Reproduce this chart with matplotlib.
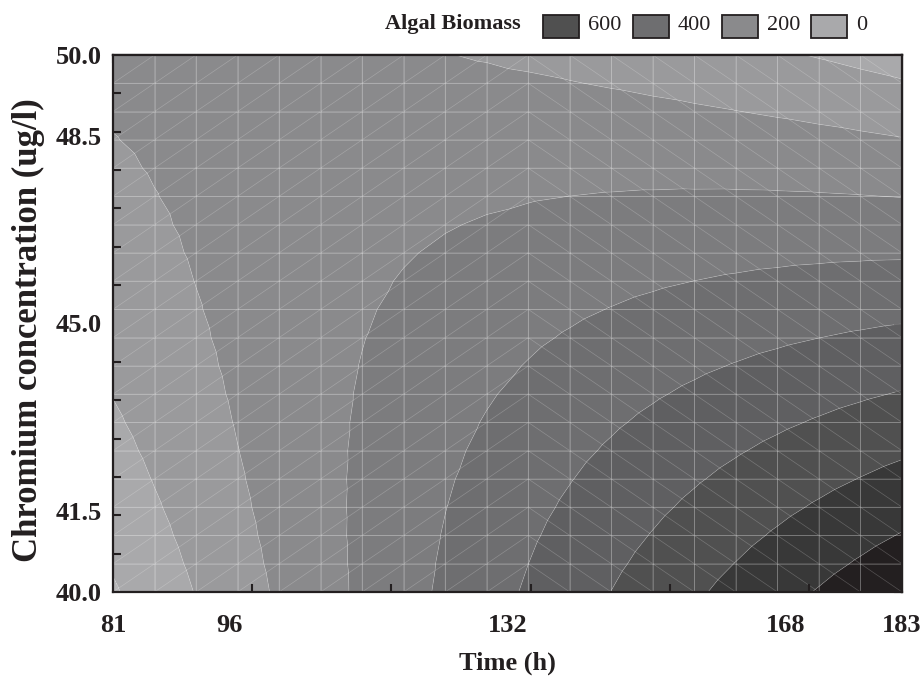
import numpy as np
import matplotlib.pyplot as plt
import matplotlib.tri as mtri
from matplotlib.patches import Rectangle


# =============================================================================
# Dados
# =============================================================================

time_range = [81, 183]          # Time (h)
cr_range = [40.0, 50.0]         # Chromium concentration (ug/l)
n_nodes = 20                    # nos da malha em cada direcao
mesh_switch = 10                # coluna onde a diagonal muda de "/" para "\"

x_ticklabels = [81, 96, 132, 168, 183]
y_ticklabels = [40.0, 41.5, 45.0, 48.5, 50.0]

# superficie de resposta ajustada (u = tempo normalizado, v = cromo normalizado)
# Z = b0 + b1*u + b2*v + b11*u^2 + b22*v^2 + b12*u*v
b0, b1, b2, b11, b22, b12 = -110, 1100, 350, -210, -122, -1050

levels = [-200, -100, 0, 100, 200, 300, 400, 500, 600, 700, 800]
band_colors = ['#b6b6b8', '#a9a9ab', '#9a9a9c', '#8a8a8c', '#7c7c7e',
               '#6e6e70', '#5f5f61', '#505050', '#383838', '#231f20']

legend_values = [600, 400, 200, 0]
legend_colors = ['#505050', '#6e6e70', '#8a8a8c', '#a9a9ab']

# marcas de escala sem rotulo (como no original)
bottom_marks = [99, 117, 135, 153, 171]
top_marks = [81 + 12.75 * k for k in range(8)]
left_marks = [40 + 10 / 14 * k for k in range(15)]
right_marks = [40 + 1.25 * k for k in range(9)]


# =============================================================================
# Malha triangular
# =============================================================================

t_nodes = np.linspace(time_range[0], time_range[1], n_nodes)
c_nodes = np.linspace(cr_range[0], cr_range[1], n_nodes)
T, C = np.meshgrid(t_nodes, c_nodes)
u = (T - time_range[0]) / (time_range[1] - time_range[0])
v = (C - cr_range[0]) / (cr_range[1] - cr_range[0])
Z = b0 + b1 * u + b2 * v + b11 * u ** 2 + b22 * v ** 2 + b12 * u * v

triangles = []
for j in range(n_nodes - 1):
    for i in range(n_nodes - 1):
        a = j * n_nodes + i
        b = a + 1
        c = a + n_nodes + 1
        d = a + n_nodes
        if i < mesh_switch:
            triangles += [[a, b, c], [a, c, d]]
        else:
            triangles += [[a, b, d], [b, c, d]]

tri = mtri.Triangulation(T.ravel(), C.ravel(), triangles)


# =============================================================================
# Grafico
# =============================================================================

plt.rcParams['font.family'] = ['Liberation Serif', 'DejaVu Serif']
ink = '#231f20'

fig = plt.figure(figsize=(9.24, 6.81), dpi=100)
W, H = 924, 681
ax = fig.add_axes([113 / W, 89 / H, 789 / W, 537 / H])

ax.tricontourf(tri, Z.ravel(), levels=levels, colors=band_colors, antialiased=True)
ax.tricontour(tri, Z.ravel(), levels=levels, colors='white', linewidths=0.5, alpha=0.25)
ax.triplot(tri, color='white', lw=0.5, alpha=0.22)
ax.vlines(t_nodes[1:-1], cr_range[0], cr_range[1], color='white', lw=0.7, alpha=0.2)
ax.hlines(c_nodes[1:-1], time_range[0], time_range[1], color='white', lw=0.7, alpha=0.2)

ax.set_xlim(time_range)
ax.set_ylim(cr_range)

ax.set_xticks(x_ticklabels)
ax.set_xticklabels([str(x) for x in x_ticklabels], fontsize=19, fontweight='bold', color=ink)
ax.set_yticks(y_ticklabels)
ax.set_yticklabels([f'{y:.1f}' for y in y_ticklabels], fontsize=19, fontweight='bold', color=ink)
ax.tick_params(axis='x', which='major', length=0, pad=16)
ax.tick_params(axis='y', which='major', length=0, pad=8)

ax.set_xticks(bottom_marks, minor=True)
ax.set_yticks(left_marks, minor=True)
ax.tick_params(which='minor', direction='in', length=6, width=1.5, color=ink)

sec_top = ax.secondary_xaxis('top')
sec_top.set_xticks(top_marks)
sec_top.set_xticklabels([])
sec_top.tick_params(direction='in', length=6, width=1.5, color=ink)
sec_right = ax.secondary_yaxis('right')
sec_right.set_yticks(right_marks)
sec_right.set_yticklabels([])
sec_right.tick_params(direction='in', length=6, width=1.5, color=ink)

for axis in (ax, sec_top, sec_right):
    for sp in axis.spines.values():
        sp.set_linewidth(1.6)
        sp.set_color(ink)

fig.text(507 / W, 1 - 663 / H, 'Time (h)', fontsize=19, fontweight='bold',
         color=ink, ha='center', va='center')
fig.text(28 / W, 1 - 330 / H, 'Chromium concentration (ug/l)', fontsize=25,
         fontweight='bold', color=ink, ha='center', va='center', rotation=90)

# legenda no topo
fig.text(385 / W, 1 - 24 / H, 'Algal Biomass', fontsize=16, fontweight='bold',
         color=ink, ha='left', va='center')
patch_x = [543, 633, 722, 811]
for px, val, col in zip(patch_x, legend_values, legend_colors):
    fig.patches.append(Rectangle((px / W, 1 - 38 / H), 36 / W, 23 / H,
                                 transform=fig.transFigure, facecolor=col,
                                 edgecolor=ink, linewidth=1.3))
    fig.text((px + 45) / W, 1 - 26 / H, str(val), fontsize=16, color=ink,
             ha='left', va='center')

fig.savefig('out.png', dpi=100)
